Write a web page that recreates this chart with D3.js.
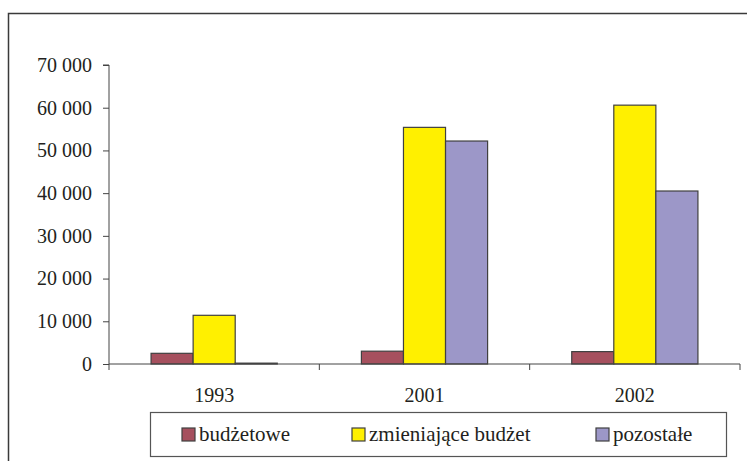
<!DOCTYPE html>
<html><head><meta charset="utf-8">
<script src="https://cdn.jsdelivr.net/npm/d3@7"></script>
<style>
html,body{margin:0;padding:0;background:#fff;}
svg{display:block;}
text{font-family:"Liberation Serif","Times New Roman",serif;fill:#231f20;}
</style></head>
<body>
<script>
const categories = ["1993", "2001", "2002"];
const seriesNames = ["budżetowe", "zmieniające budżet", "pozostałe"];
const budzetowe = [2500, 3000, 2900];
const zmieniajace = [11400, 55400, 60600];
const pozostale = [200, 52200, 40500];
const yTicks = [0, 10000, 20000, 30000, 40000, 50000, 60000, 70000];
const colors = ["#A6505E", "#FFF000", "#9C97C8"];

(function () {
const seriesValues = [budzetowe, zmieniajace, pozostale];
const W = 747, H = 461;
const svg = d3.select("body").append("svg").attr("width", W).attr("height", H);

// outer frame
svg.append("rect").attr("x", 8.5).attr("y", 13.5).attr("width", 760).attr("height", 470)
  .attr("fill", "none").attr("stroke", "#3a3a3a").attr("stroke-width", 1.5);

const pLeft = 109, pRight = 740, pTop = 65, pBottom = 364;
const x = d3.scaleBand().domain(categories).range([pLeft, pRight]).paddingInner(0).paddingOuter(0);
const y = d3.scaleLinear().domain([0, 70000]).range([pBottom, pTop]);
const inner = d3.scaleBand().domain(d3.range(3)).range([x.bandwidth()*0.2, x.bandwidth()*0.8]);

const fmt = v => d3.format(",")(v).replace(/,/g, " ");

// y axis
const yAxis = svg.append("g").attr("transform", `translate(${pLeft},0)`)
  .call(d3.axisLeft(y).tickValues(yTicks).tickSize(6).tickPadding(11).tickFormat(fmt));
yAxis.attr("font-family", '"Liberation Serif",serif').attr("font-size", 20);
yAxis.select(".domain").attr("stroke", "#444").attr("d", `M-6,${pTop}H0V${pBottom}`);
yAxis.selectAll(".tick line").attr("stroke", "#444");
yAxis.selectAll("text").attr("fill", "#231f20");

// bars
const groups = svg.append("g").selectAll("g").data(categories).join("g")
  .attr("transform", d => `translate(${x(d)},0)`);
groups.selectAll("rect").data((d, i) => seriesValues.map((s, j) => ({j, v: s[i]})))
  .join("rect")
  .attr("x", d => inner(d.j))
  .attr("width", inner.bandwidth())
  .attr("y", d => y(d.v))
  .attr("height", d => pBottom - y(d.v))
  .attr("fill", d => colors[d.j])
  .attr("stroke", "#404040").attr("stroke-width", 1.2);

// x axis
const xAxis = svg.append("g").attr("transform", `translate(0,${pBottom})`);
xAxis.append("line").attr("x1", pLeft).attr("x2", pRight).attr("y1", 0).attr("y2", 0).attr("stroke", "#444");
const bounds = categories.map(c => x(c)).concat([pRight]);
xAxis.selectAll(".tk").data(bounds).join("line").attr("class", "tk")
  .attr("x1", d => d).attr("x2", d => d).attr("y1", 0).attr("y2", 6).attr("stroke", "#444");
xAxis.selectAll("text").data(categories).join("text")
  .attr("x", d => x(d) + x.bandwidth()/2).attr("y", 38)
  .attr("text-anchor", "middle").attr("font-size", 20).text(d => d);

// legend
const lg = svg.append("g");
lg.append("rect").attr("x", 150.5).attr("y", 412.5).attr("width", 576).attr("height", 44)
  .attr("fill", "#fff").attr("stroke", "#555").attr("stroke-width", 1.2);
const legX = [182, 352, 596];
seriesNames.forEach((n, i) => {
  lg.append("rect").attr("x", legX[i]).attr("y", 428).attr("width", 13).attr("height", 13)
    .attr("fill", colors[i]).attr("stroke", "#404040").attr("stroke-width", 1.2);
  lg.append("text").attr("x", legX[i] + 17).attr("y", 441).attr("font-size", 21).text(n);
});
})();
</script>
</body></html>
